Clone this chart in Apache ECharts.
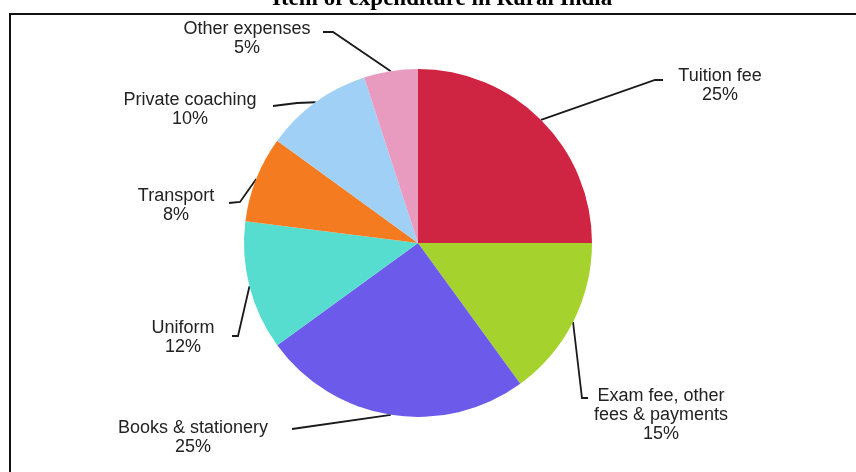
<!DOCTYPE html>
<html><head><meta charset="utf-8">
<script src="https://cdn.jsdelivr.net/npm/echarts@6/dist/echarts.min.js"></script>
<style>
html,body{margin:0;padding:0;background:#fff;overflow:hidden;}
#frame{position:absolute;left:9px;top:13px;width:900px;height:520px;border-left:2px solid #111;border-top:2px solid #111;}
#chart{position:absolute;left:0;top:0;width:856px;height:472px;}
</style></head><body>
<div id="frame"></div>
<div id="chart"></div>
<script>
// ---- data ----
const titleText = 'Item of expenditure in Rural India';
const categories = ['Tuition fee', 'Exam fee, other\nfees & payments', 'Books & stationery', 'Uniform', 'Transport', 'Private coaching', 'Other expenses'];
const shares = [25, 15, 25, 12, 8, 10, 5];

// ---- styling / label placement (not data) ----
const sliceColors = ['#CF2442', '#A5D22C', '#6C5BEA', '#57DDD0', '#F47B20', '#A0D0F5', '#E89BBF'];
const labelCenters = [[720, 86], [661, 415], [193, 438], [183, 338], [176, 206], [190, 110], [247, 39]];
const leaderBends = [[655, 80], [582, 398], [292, 429], [238, 336], [240, 202], [297, 103], [333, 32]];
const leaderEnds = [[663, 80], [588, 398], [292, 429], [232, 336], [229, 203], [273, 106], [323, 32]];

const chart = echarts.init(document.getElementById('chart'), null, {renderer: 'canvas'});
chart.setOption({
  animation: false,
  title: {
    text: titleText,
    left: 267,
    top: -17,
    textStyle: {fontFamily: 'Liberation Serif', fontWeight: 'bold', fontSize: 23, color: '#000'}
  },
  series: [{
    type: 'pie',
    center: [418, 243],
    radius: 174,
    startAngle: 90,
    clockwise: true,
    avoidLabelOverlap: false,
    data: categories.map((c, i) => ({name: c, value: shares[i], itemStyle: {color: sliceColors[i]}})),
    itemStyle: {borderWidth: 0},
    label: {
      show: true,
      position: 'outside',
      formatter: '{b}\n{c}%',
      fontFamily: 'Liberation Sans',
      fontSize: 18,
      lineHeight: 19,
      color: '#222',
      align: 'center'
    },
    labelLine: {show: true, length: 20, length2: 10, lineStyle: {color: '#1a1a1a', width: 1.8}},
    labelLayout: function (params) {
      const i = params.dataIndex;
      const pts = params.labelLinePoints;
      return {
        x: labelCenters[i][0],
        y: labelCenters[i][1],
        align: 'center',
        verticalAlign: 'middle',
        labelLinePoints: [pts[0], leaderBends[i], leaderEnds[i]]
      };
    },
    emphasis: {disabled: true}
  }]
});
</script>
</body></html>
